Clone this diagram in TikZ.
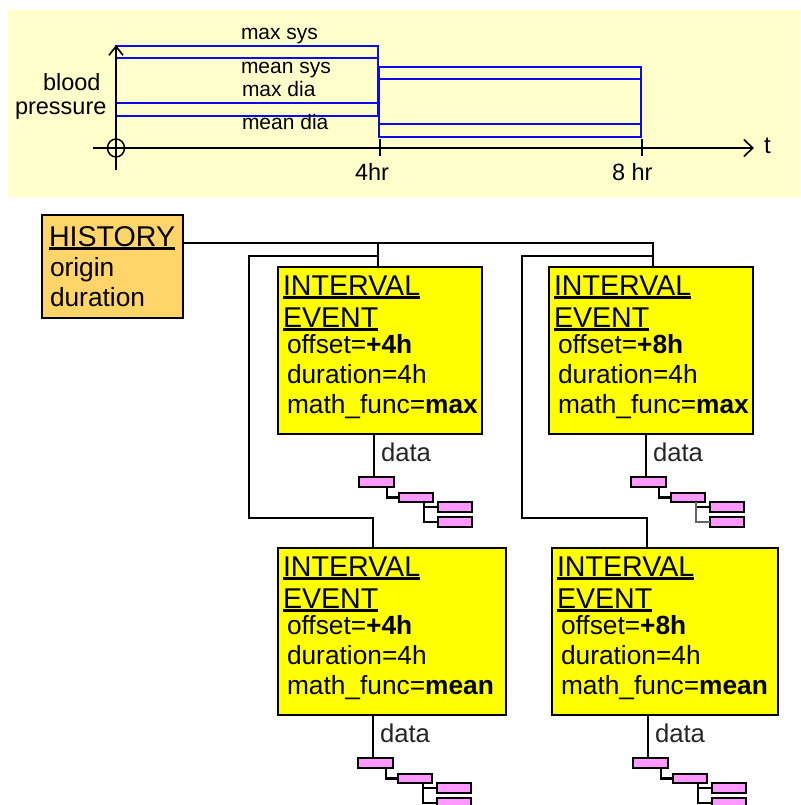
\documentclass[tikz,border=0pt]{standalone}
\usepackage{fontspec}
\setmainfont{Liberation Sans}
\usetikzlibrary{arrows.meta,calc,shapes.geometric}
\definecolor{chartbg}{RGB}{255,255,204}
\definecolor{histfill}{RGB}{255,212,104}
\definecolor{evfill}{RGB}{255,255,0}
\definecolor{datafill}{RGB}{255,153,255}
\definecolor{chartblue}{RGB}{10,10,235}
\tikzset{
  chartlbl/.style={anchor=base west, inner sep=0, outer sep=0, font=\fontsize{21}{25}\selectfont},
  axislbl/.style={anchor=base west, inner sep=0, outer sep=0, font=\fontsize{23.5}{28}\selectfont},
  ttl/.style={anchor=base west, inner sep=0, outer sep=0, font=\fontsize{28.6}{34}\selectfont},
  body/.style={anchor=base west, inner sep=0, outer sep=0, font=\fontsize{26.3}{31}\selectfont},
  datalbl/.style={anchor=base west, inner sep=0, outer sep=0, text=black!85, font=\fontsize{25.7}{30}\selectfont},
  ul/.style={line width=2.2pt},
  bluebox/.style={draw=chartblue, line width=2.2pt},
  axis/.style={line width=1.8pt},
  histbox/.style={draw, fill=histfill, line width=2.6pt, inner sep=0, outer sep=0, anchor=north west},
  evbox/.style={draw, fill=evfill, line width=2.6pt, inner sep=0, outer sep=0, anchor=north west},
  databox/.style={draw, fill=datafill, line width=2.4pt, inner sep=0, outer sep=0, anchor=north west, minimum width=34pt},
  conn/.style={line width=2.5pt},
  thinconn/.style={line width=1.2pt, draw=black!60},
}
% interval event box: name, x, y, width, offset, func
\newcommand\ivbox[6]{%
  \node[evbox, minimum width=#4pt, minimum height=167pt] (#1) at (#2,#3) {};
  \node[ttl] (#1t1) at ($(#1.north west)+(5,28)$) {INTERVAL};
  \draw[ul] ([yshift=-2.5pt]#1t1.base west) -- ([yshift=-2.5pt]#1t1.base east);
  \node[ttl] (#1t2) at ($(#1.north west)+(5,60)$) {EVENT};
  \draw[ul] ([yshift=-2.5pt]#1t2.base west) -- ([yshift=-2.5pt]#1t2.base east);
  \node[body] (#1l1) at ($(#1.north west)+(9,86)$) {offset=\textbf{#5}};
  \node[body] (#1l2) at ($(#1.north west)+(9,116)$) {duration=4h};
  \node[body] (#1l3) at ($(#1.north west)+(9,146)$) {math\_func=\textbf{#6}};
}
% data tree: name, box, x of data line, style of lower branch
\newcommand\datatree[4]{%
  \coordinate (#1p) at (#3,0);
  \coordinate (#1P) at (#1p |- #2.south);
  \node[datalbl] (#1lbl) at ($(#1P)+(7,27)$) {data};
  \node[databox, minimum width=35pt, minimum height=10pt] (#1r1) at ($(#1P)+(-15,43)$) {};
  \node[databox, minimum height=9pt] (#1r2) at ($(#1P)+(25,59)$) {};
  \node[databox, minimum height=10pt] (#1r3) at ($(#1P)+(64,68)$) {};
  \node[databox, minimum height=10pt] (#1r4) at ($(#1P)+(64,83)$) {};
  \draw[conn] (#1P) -- (#1P |- #1r1.north);
  \draw[conn] ($(#1r1.south west)+(28,0)$) |- (#1r2.west);
  \draw[conn] ($(#1r2.south west)+(25,0)$) |- (#1r3.west);
  \draw[#4] ($(#1r2.south west)+(25,0)$) |- (#1r4.west);
}
\begin{document}
\begin{tikzpicture}[x=1pt, y=-1pt]
\useasboundingbox (0,0) rectangle (800,805);
% ---------- chart ----------
\fill[chartbg] (8,10) rectangle (800,197);
\draw[bluebox] (116,46) rectangle (378,116);
\draw[bluebox] (116,58) -- (378,58);
\draw[bluebox] (116,103) -- (378,103);
\draw[bluebox] (379,67) rectangle (641,137);
\draw[bluebox] (379,79) -- (641,79);
\draw[bluebox] (379,124) -- (641,124);
\coordinate (xstart) at (93,148);
\coordinate (xend) at (754,148);
\coordinate (ystart) at (116,170);
\coordinate (yend) at (116,45);
\draw[axis, -{Straight Barb[length=9pt,width=17pt,line width=1.6pt]}] (xstart) -- (xend);
\draw[axis, -{Straight Barb[length=9pt,width=14pt,line width=1.6pt]}] (ystart) -- (yend);
\node[draw, line width=1.5pt, ellipse, minimum width=17pt, minimum height=18pt, inner sep=0] (orig) at (116,148) {};
\draw[axis] (380,139) -- (380,156);
\draw[axis] (642,139) -- (642,156);
\node[chartlbl] (lmaxsys) at (241,40) {max sys};
\node[chartlbl] (lmeansys) at (241,74) {mean sys};
\node[chartlbl] (lmaxdia) at (242,97) {max dia};
\node[chartlbl] (lmeandia) at (242,130) {mean dia};
\node[axislbl] (lblood) at (43,91) {blood};
\node[axislbl] (lpress) at (15,115) {pressure};
\node[axislbl] (l4) at (355,181) {4hr};
\node[axislbl] (l8) at (612,181) {8 hr};
\node[axislbl, font=\fontsize{24}{28}\selectfont] (lt) at (764,154) {t};
% ---------- history ----------
\node[histbox, minimum width=141pt, minimum height=103pt] (hist) at (42,215) {};
\node[ttl] (histt) at (49,246) {HISTORY};
\draw[ul] ([yshift=-2.5pt]histt.base west) -- ([yshift=-2.5pt]histt.base east);
\node[body] (hist1) at (50,276) {origin};
\node[body] (hist2) at (50,306) {duration};
% ---------- interval events ----------
\ivbox{b1}{278}{267}{204}{+4h}{max}
\ivbox{b2}{549}{267}{204}{+8h}{max}
\ivbox{b3}{278}{548}{228}{+4h}{mean}
\ivbox{b4}{552}{548}{226}{+8h}{mean}
% ---------- connectors ----------
\coordinate (j1) at (378,243);
\coordinate (j2) at (653,243);
\draw[conn] (hist.east |- j1) -- (j2) -- (j2 |- b2.north);
\draw[conn] (j1) -- (j1 |- b1.north);
\coordinate (k1) at (379,256);
\coordinate (c1) at (249,518);
\coordinate (b3in) at (373,548);
\draw[conn] (k1) -| (c1) -| (b3in);
\coordinate (k2) at (654,256);
\coordinate (c2) at (522,518);
\coordinate (b4in) at (647,548);
\draw[conn] (k2) -| (c2) -| (b4in);
% ---------- data trees ----------
\datatree{d1}{b1}{374}{conn}
\datatree{d2}{b2}{646}{thinconn}
\datatree{d3}{b3}{373}{conn}
\datatree{d4}{b4}{648}{conn}
\end{tikzpicture}
\end{document}
